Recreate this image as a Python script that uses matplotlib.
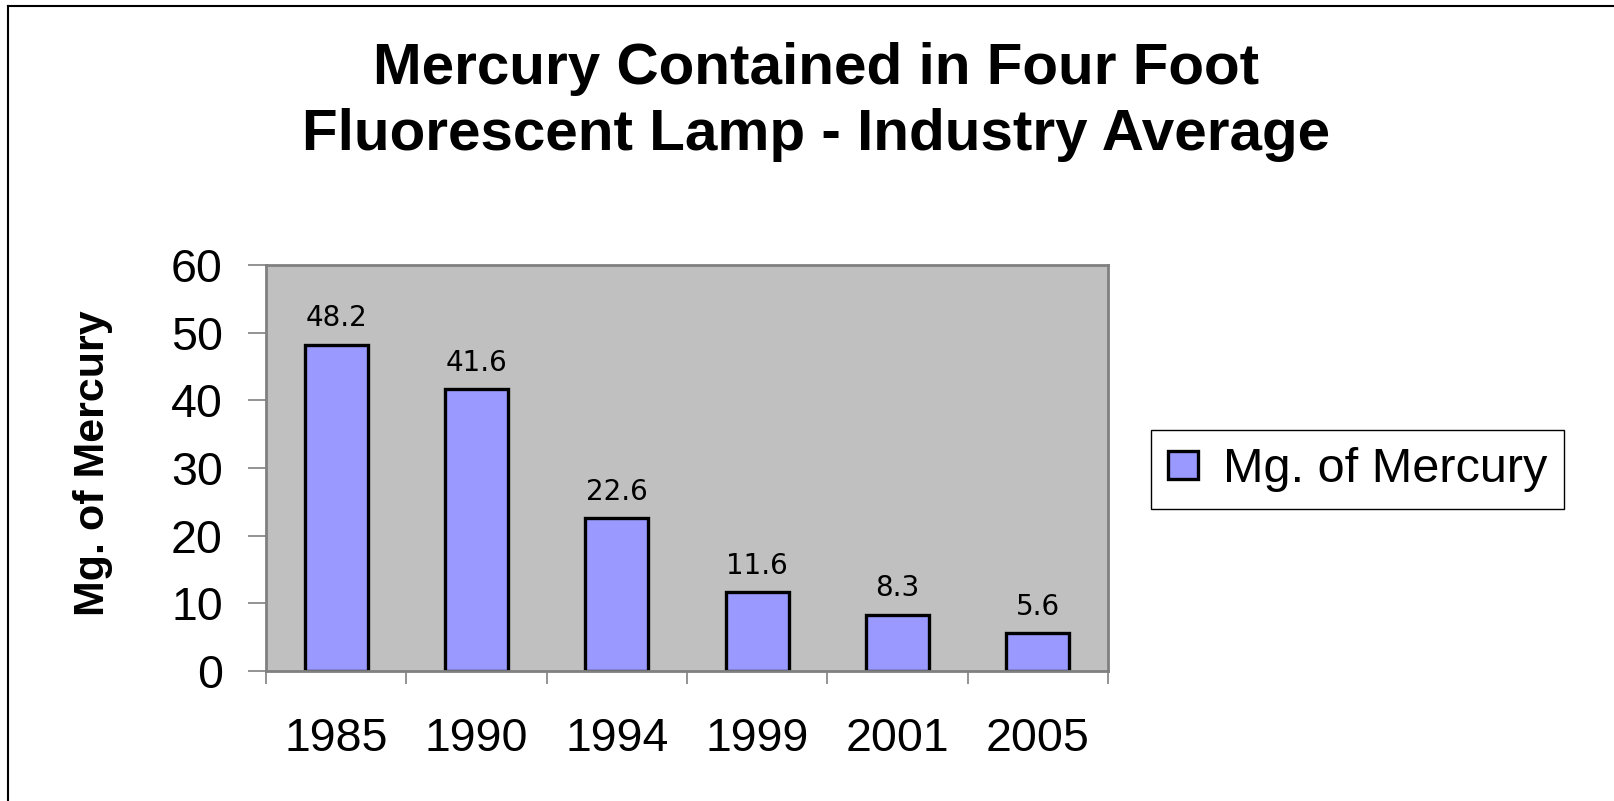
import matplotlib
matplotlib.use("Agg")
import matplotlib.pyplot as plt
from matplotlib.lines import Line2D
import numpy as np

years = ['1985', '1990', '1994', '1999', '2001', '2005']
mercury_mg = [48.2, 41.6, 22.6, 11.6, 8.3, 5.6]
y_ticks = [0, 10, 20, 30, 40, 50, 60]
title_lines = ['Mercury Contained in Four Foot', 'Fluorescent Lamp - Industry Average']
series_name = 'Mg. of Mercury'

plt.rcParams['font.family'] = ['Liberation Sans', 'DejaVu Sans']

fig = plt.figure(figsize=(16.14, 8.01), dpi=100)
ax = fig.add_axes([0.1648, 0.1623, 0.5217, 0.5069])
ax.set_facecolor('#c0c0c0')

pos = np.arange(len(years)) + 0.5
bars = ax.bar(pos, mercury_mg, width=0.45, color='#9999ff',
              edgecolor='black', linewidth=2.4, label=series_name)
ax.bar_label(bars, labels=[f'{v:.1f}' for v in mercury_mg], padding=9,
             fontsize=20, family='DejaVu Sans')

ax.set_xlim(0, len(years))
ax.set_ylim(0, 60)
ax.set_yticks(y_ticks)
# Excel style: ticks between categories, labels centred under bars
ax.set_xticks(np.arange(len(years) + 1))
ax.set_xticklabels([])
ax.set_xticks(pos, minor=True)
ax.set_xticklabels(years, minor=True)
ax.tick_params(axis='x', which='major', length=9.5, width=1.2, color='#808080')
ax.tick_params(axis='x', which='minor', length=0, pad=33, labelsize=33.5)
ax.tick_params(axis='y', length=13, width=1.2, color='#808080', pad=18, labelsize=33.5)
for s in ax.spines.values():
    s.set_color('#808080')
    s.set_linewidth(2)

fig.text(93 / 1614, 1 - 463 / 801, series_name, rotation=90, ha='center', va='center',
         fontsize=31, fontweight='bold')

fig.text(0.5056, 0.8951, title_lines[0], ha='center', va='baseline', fontsize=42, fontweight='bold')
fig.text(0.5056, 0.8127, title_lines[1], ha='center', va='baseline', fontsize=42, fontweight='bold')

leg = fig.legend(loc='center left', bbox_to_anchor=(0.7132, 0.4139), bbox_transform=fig.transFigure,
                 fontsize=35, frameon=True, fancybox=False, edgecolor='black', framealpha=1,
                 borderpad=0.35, borderaxespad=0, handlelength=0.62, handleheight=0.5,
                 handletextpad=0.5)
leg.get_frame().set_linewidth(1)

# chart area border (left and top visible)
fig.add_artist(Line2D([8 / 1614, 8 / 1614], [0, 1 - 6 / 801], transform=fig.transFigure,
                      color='black', lw=1.5))
fig.add_artist(Line2D([8 / 1614, 1], [1 - 6 / 801, 1 - 6 / 801], transform=fig.transFigure,
                      color='black', lw=1.5))

fig.savefig('out.png', dpi=100)
